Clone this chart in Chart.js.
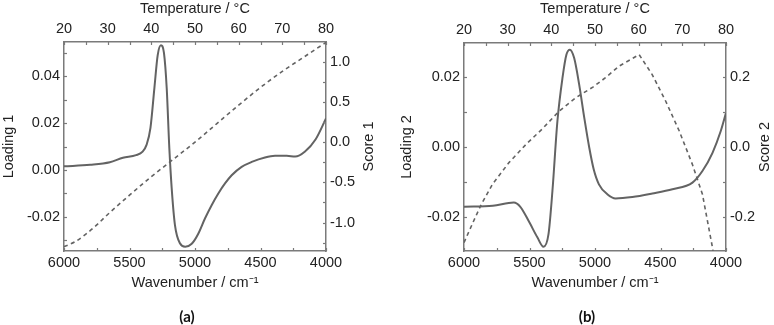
<!DOCTYPE html>
<html>
<head>
<meta charset="utf-8">
<script src="https://cdn.jsdelivr.net/npm/chart.js@4.4.1/dist/chart.umd.min.js"></script>
<style>
  body { margin: 0; background: #fff; }
  #wrap { position: relative; width: 774px; height: 325px; }
  #wrap canvas { position: absolute; top: 0; }
</style>
</head>
<body>
<div id="wrap">
  <canvas id="chartA" width="387" height="325" style="left:0px"></canvas>
  <canvas id="chartB" width="387" height="325" style="left:387px"></canvas>
</div>
<script>
// ---- panel (a) ----
var wavenumberA = [6000, 5800, 5650, 5550, 5450, 5400, 5370, 5340, 5310, 5285, 5260, 5237, 5216, 5196, 5178, 5153, 5115, 5075, 5025, 4975, 4924, 4873, 4822, 4771, 4720, 4644, 4567, 4466, 4389, 4300, 4235, 4160, 4080, 4000];
var loadingA = [0.0015, 0.0022, 0.0033, 0.0052, 0.0063, 0.0078, 0.0107, 0.018, 0.035, 0.049, 0.0533, 0.050, 0.035, 0.0093, -0.0078, -0.0236, -0.0314, -0.0329, -0.0316, -0.0273, -0.0208, -0.0151, -0.0101, -0.0058, -0.0023, 0.0013, 0.0034, 0.0053, 0.0060, 0.0060, 0.0057, 0.0079, 0.0130, 0.0220];
var temperatureA = [20, 22.5, 25, 27.5, 30, 35, 40, 45, 50, 55, 60, 65, 70, 75, 80];
var scoreA = [-1.30, -1.24, -1.145, -1.03, -0.90, -0.66, -0.43, -0.215, 0.0, 0.23, 0.46, 0.68, 0.88, 1.06, 1.24];

// ---- panel (b) ----
var wavenumberB = [6000, 5780, 5620, 5570, 5500, 5440, 5393, 5355, 5325, 5287, 5248, 5218, 5192, 5159, 5121, 5082, 5044, 5010, 4970, 4906, 4843, 4715, 4562, 4409, 4256, 4180, 4103, 4040, 4000];
var loadingB = [-0.0170, -0.0167, -0.0158, -0.0170, -0.0215, -0.0257, -0.0284, -0.0248, -0.0125, 0.0074, 0.0198, 0.0264, 0.0278, 0.0254, 0.0179, 0.0084, -0.0001, -0.0063, -0.0106, -0.0134, -0.0146, -0.0142, -0.0132, -0.0120, -0.0101, -0.0068, -0.0016, 0.0046, 0.0098];
var temperatureB = [20, 21.9, 23.8, 26.5, 30.3, 34.2, 38, 41.8, 45.6, 49.6, 52.4, 55.5, 60.1, 63.1, 66.2, 69.3, 72.3, 74.6, 76.9, 77.3];
var scoreB = [-0.272, -0.219, -0.167, -0.106, -0.044, 0.008, 0.053, 0.103, 0.141, 0.172, 0.198, 0.231, 0.264, 0.207, 0.131, 0.046, -0.049, -0.134, -0.286, -0.32];

// ---- axis ticks ----
var wavenumberTicks = [6000, 5500, 5000, 4500, 4000];
var temperatureTicks = [20, 30, 40, 50, 60, 70, 80];
var loadingTicksA = [-0.02, 0, 0.02, 0.04];
var scoreTicksA = [-1.0, -0.5, 0, 0.5, 1.0];
var loadingTicksB = [-0.02, 0, 0.02];
var scoreTicksB = [-0.2, 0, 0.2];

// small inward tick marks
var wavenumberMarks = [6000, 5750, 5500, 5250, 5000, 4750, 4500, 4250, 4000];
var temperatureMarks = [20, 25, 30, 35, 40, 45, 50, 55, 60, 65, 70, 75, 80];
var loadingMarksA = [-0.03, -0.02, -0.01, 0, 0.01, 0.02, 0.03, 0.04, 0.05];
var scoreMarksA = [-1.25, -1.0, -0.75, -0.5, -0.25, 0, 0.25, 0.5, 0.75, 1.0];
var loadingMarksB = [-0.02, -0.01, 0, 0.01, 0.02];
var scoreMarksB = [-0.2, -0.1, 0, 0.1, 0.2];

var inkColor = '#636363';
var frameColor = '#7a7a7a';
var textColor = '#222';

Chart.defaults.font.family = "'Liberation Sans', Arial, sans-serif";
Chart.defaults.font.size = 14.5;
Chart.defaults.color = textColor;

function toXY(xs, ys) {
  var out = [];
  for (var i = 0; i < xs.length; i++) out.push({x: xs[i], y: ys[i]});
  return out;
}

function tickMarkPlugin(marks) {
  return {
    id: 'tickMarks',
    afterDraw: function(chart) {
      var ctx = chart.ctx, a = chart.chartArea, len = 3;
      ctx.save();
      ctx.strokeStyle = frameColor;
      ctx.lineWidth = 1.2;
      for (var id in marks) {
        var sc = chart.scales[id];
        marks[id].forEach(function(v) {
          var p = Math.round(sc.getPixelForValue(v)) + 0.5;
          ctx.beginPath();
          if (sc.position === 'bottom') { ctx.moveTo(p, a.bottom); ctx.lineTo(p, a.bottom - len); }
          else if (sc.position === 'top') { ctx.moveTo(p, a.top); ctx.lineTo(p, a.top + len); }
          else if (sc.position === 'left') { ctx.moveTo(a.left, p); ctx.lineTo(a.left + len, p); }
          else { ctx.moveTo(a.right, p); ctx.lineTo(a.right - len, p); }
          ctx.stroke();
        });
      }
      ctx.restore();
    }
  };
}

// right-hand axis title (reads bottom to top) and the panel letter
function extraTextPlugin(rightTitle, rightOffset, panelLabel) {
  return {
    id: 'extraText',
    afterDraw: function(chart) {
      var ctx = chart.ctx, a = chart.chartArea;
      ctx.save();
      ctx.fillStyle = textColor;
      ctx.font = "14.5px 'Liberation Sans', Arial, sans-serif";
      ctx.textAlign = 'center';
      ctx.textBaseline = 'middle';
      ctx.translate(chart.width - rightOffset, (a.top + a.bottom) / 2);
      ctx.rotate(-Math.PI / 2);
      ctx.fillText(rightTitle, 0, 0);
      ctx.restore();

      ctx.save();
      ctx.fillStyle = '#111';
      ctx.font = "bold 15px Lato, 'Open Sans', sans-serif";
      ctx.textAlign = 'center';
      ctx.textBaseline = 'middle';
      ctx.fillText(panelLabel, (a.left + a.right) / 2 - 8, 317);
      ctx.restore();
    }
  };
}

function fixedTicks(values) {
  return function(scale) {
    scale.ticks = values.map(function(v) { return {value: v}; });
  };
}

function buildPanel(canvasId, p) {
  var noGrid = {display: false, drawTicks: false, tickLength: 0};
  var border = {display: true, color: frameColor, width: 1.5};
  new Chart(document.getElementById(canvasId), {
    type: 'line',
    data: {
      datasets: [
        {
          label: p.loadingTitle,
          data: toXY(p.wavenumber, p.loading),
          xAxisID: 'xB', yAxisID: 'yL',
          borderColor: inkColor, borderWidth: 2,
          pointRadius: 0, fill: false,
          cubicInterpolationMode: 'monotone'
        },
        {
          label: p.scoreTitle,
          data: toXY(p.temperature, p.score),
          xAxisID: 'xT', yAxisID: 'yR',
          borderColor: inkColor, borderWidth: 1.6,
          borderDash: [4, 3.5],
          pointRadius: 0, fill: false,
          cubicInterpolationMode: p.scoreSmooth ? 'monotone' : 'default',
          tension: 0
        }
      ]
    },
    options: {
      responsive: false,
      animation: false,
      events: [],
      plugins: { legend: {display: false}, tooltip: {enabled: false} },
      layout: { padding: 0 },
      scales: {
        xB: {
          type: 'linear', position: 'bottom', axis: 'x',
          min: 4000, max: 6000, reverse: true,
          grid: noGrid, border: border,
          afterBuildTicks: fixedTicks(wavenumberTicks),
          afterFit: function(s) { s.height = p.bottom; },
          ticks: { padding: 3, autoSkip: false, maxRotation: 0,
                   callback: function(v) { return String(v); } },
          title: { display: true, text: 'Wavenumber / cm\u207B\u00B9', padding: {top: 0, bottom: 33} }
        },
        xT: {
          type: 'linear', position: 'top', axis: 'x',
          min: 20, max: 80,
          grid: noGrid, border: border,
          afterBuildTicks: fixedTicks(temperatureTicks),
          afterFit: function(s) { s.height = p.top; },
          ticks: { padding: 4, autoSkip: false, maxRotation: 0,
                   callback: function(v) { return String(v); } },
          title: { display: true, text: 'Temperature / \u00B0C', padding: {top: 0.5, bottom: 0} }
        },
        yL: {
          type: 'linear', position: 'left',
          min: p.loadingMin, max: p.loadingMax,
          grid: noGrid, border: border,
          afterBuildTicks: fixedTicks(p.loadingTicks),
          afterFit: function(s) { s.width = p.left; },
          ticks: { padding: 4, autoSkip: false,
                   callback: function(v) { return v.toFixed(2); } },
          title: { display: true, text: p.loadingTitle, padding: {top: p.leftTitlePad, bottom: 0} }
        },
        yR: {
          type: 'linear', position: 'right',
          min: p.scoreMin, max: p.scoreMax,
          grid: noGrid, border: border,
          afterBuildTicks: fixedTicks(p.scoreTicks),
          afterFit: function(s) { s.width = p.right; },
          ticks: { padding: 4, autoSkip: false,
                   callback: function(v) { return v.toFixed(1); } }
        }
      }
    },
    plugins: [
      tickMarkPlugin({xB: wavenumberMarks, xT: temperatureMarks, yL: p.loadingMarks, yR: p.scoreMarks}),
      extraTextPlugin(p.scoreTitle, p.rightTitleOffset, p.panelLabel)
    ]
  });
}

buildPanel('chartA', {
  wavenumber: wavenumberA, loading: loadingA,
  temperature: temperatureA, score: scoreA, scoreSmooth: true,
  loadingMin: -0.0347, loadingMax: 0.0547, loadingTicks: loadingTicksA, loadingMarks: loadingMarksA,
  scoreMin: -1.354, scoreMax: 1.245, scoreTicks: scoreTicksA, scoreMarks: scoreMarksA,
  loadingTitle: 'Loading 1', scoreTitle: 'Score 1', panelLabel: '(a)',
  left: 64, right: 61, top: 42, bottom: 74, leftTitlePad: 0, rightTitleOffset: 18
});

buildPanel('chartB', {
  wavenumber: wavenumberB, loading: loadingB,
  temperature: temperatureB, score: scoreB, scoreSmooth: false,
  loadingMin: -0.0296, loadingMax: 0.0297, loadingTicks: loadingTicksB, loadingMarks: loadingMarksB,
  scoreMin: -0.296, scoreMax: 0.297, scoreTicks: scoreTicksB, scoreMarks: scoreMarksB,
  loadingTitle: 'Loading 2', scoreTitle: 'Score 2', panelLabel: '(b)',
  left: 77, right: 48, top: 43, bottom: 74, leftTitlePad: 11.5, rightTitleOffset: 9
});
</script>
</body>
</html>
